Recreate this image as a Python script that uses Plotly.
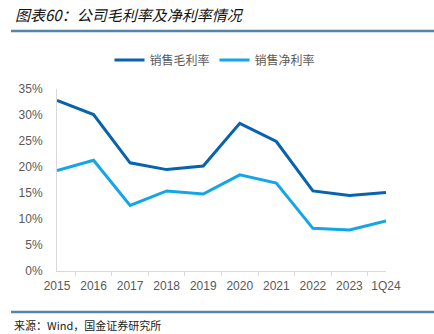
import plotly.graph_objects as go

categories = ["2015", "2016", "2017", "2018", "2019", "2020", "2021", "2022", "2023", "1Q24"]
gross_margin = [0.328, 0.301, 0.208, 0.195, 0.202, 0.284, 0.249, 0.154, 0.145, 0.151]
net_margin = [0.193, 0.213, 0.126, 0.154, 0.148, 0.185, 0.169, 0.082, 0.079, 0.096]
y_ticks = [0, 0.05, 0.10, 0.15, 0.20, 0.25, 0.30, 0.35]

PL, PR, PT, PB = 57, 386, 89, 271
PW, PH = PR - PL, PB - PT


def px(x):
    return (x - PL) / PW


def py(y):
    return (PB - y) / PH


fig = go.Figure()
fig.add_trace(go.Scatter(x=categories, y=gross_margin, mode="lines", name="销售毛利率",
                         line=dict(color="#0862AE", width=3)))
fig.add_trace(go.Scatter(x=categories, y=net_margin, mode="lines", name="销售净利率",
                         line=dict(color="#12A5E8", width=3)))

fig.update_layout(
    width=434, height=334,
    margin=dict(l=PL, r=434 - PR, t=PT, b=334 - PB),
    paper_bgcolor="white", plot_bgcolor="white",
    font=dict(family="Liberation Sans, Arial, sans-serif", color="#595959", size=12),
    showlegend=True,
    legend=dict(orientation="h", x=px(215), xanchor="center", y=py(60), yanchor="middle",
                font=dict(family="Noto Sans CJK SC", size=12, color="#595959"),
                itemwidth=30),
    xaxis=dict(type="category", showline=True, linecolor="#d9d9d9", linewidth=1,
               ticks="outside", tickson="boundaries", ticklen=4, tickcolor="#d9d9d9",
               ticklabelstandoff=4,
               showgrid=False, tickfont=dict(size=12, color="#595959"), fixedrange=True),
    yaxis=dict(range=[0, 0.35], tickvals=y_ticks, tickformat=".0%", showline=True,
               linecolor="#d9d9d9", linewidth=1, showgrid=False, zeroline=False,
               ticks="", ticklabelstandoff=11, tickfont=dict(size=12, color="#595959")),
)

fig.add_annotation(text="图表60：公司毛利率及净利率情况", xref="paper", yref="paper",
                   x=px(13), xanchor="left", y=py(15), yanchor="middle",
                   showarrow=False,
                   font=dict(family="Noto Sans CJK SC", size=15, color="#111111", style="italic"))
fig.add_annotation(text="来源：Wind，国金证券研究所", xref="paper", yref="paper",
                   x=px(12), xanchor="left", y=py(325), yanchor="middle",
                   showarrow=False,
                   font=dict(family="Noto Sans CJK SC", size=11, color="#222222"))

# header and footer rules
for yy in (31, 312):
    fig.add_shape(type="line", xref="paper", yref="paper",
                  x0=px(11), x1=px(434), y0=py(yy), y1=py(yy),
                  line=dict(color="#5485A8", width=2.5))

fig.write_html("out.html")
